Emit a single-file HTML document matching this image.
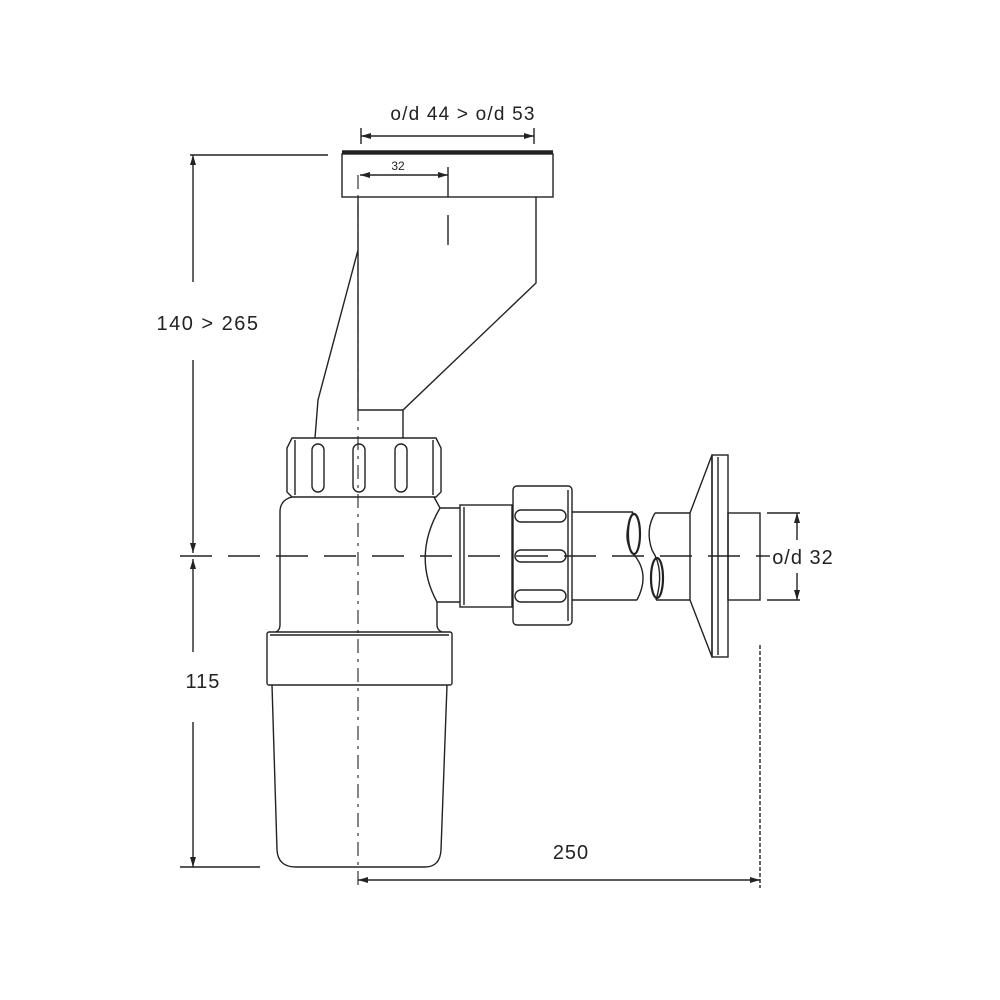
<!DOCTYPE html>
<html><head><style>
html,body{margin:0;padding:0;background:#fff;width:1000px;height:1000px;overflow:hidden}
svg{display:block}
text{font-family:"Liberation Sans",sans-serif;fill:#222}
</style></head><body>
<svg width="1000" height="1000" viewBox="0 0 1000 1000" xmlns="http://www.w3.org/2000/svg">
<defs>
<marker id="a" viewBox="0 0 10 6" refX="10" refY="3" markerWidth="10" markerHeight="6" orient="auto-start-reverse" markerUnits="userSpaceOnUse"><path d="M0,0 L10,3 L0,6z" fill="#222"/></marker>
</defs>
<g stroke="#222" stroke-width="1.4" fill="none">
<line x1="361" y1="136" x2="534" y2="136" marker-start="url(#a)" marker-end="url(#a)"/>
<line x1="361" y1="128" x2="361" y2="144"/><line x1="534" y1="128" x2="534" y2="144"/>
<line x1="190" y1="155" x2="328" y2="155"/>
<line x1="342" y1="152" x2="553" y2="152" stroke-width="3.5"/>
<rect x="342" y="154" width="211" height="43"/>
<line x1="360" y1="175" x2="448" y2="175" marker-start="url(#a)" marker-end="url(#a)"/>
<line x1="448" y1="167" x2="448" y2="197"/>
<line x1="448" y1="215" x2="448" y2="245"/>
<path d="M358 197 V410 H403 L536 283 V197"/>
<path d="M358 250 L318 400 L315 438"/>
<line x1="403" y1="410" x2="403" y2="438"/>
<path d="M292 438 H436 L441 448 V492 L436 497 H292 L287 492 V448 Z"/>
<line x1="295" y1="440" x2="295" y2="495"/><line x1="433" y1="440" x2="433" y2="495"/>
<rect x="312" y="444" width="12" height="48" rx="6"/>
<rect x="353" y="444" width="12" height="48" rx="6"/>
<rect x="395" y="444" width="12" height="48" rx="6"/>
<path d="M292 497 Q280 500 280 512 V625 Q280 630 276 632"/>
<path d="M434 497 L440 508 Q412 556 437 602 V625 Q437 630 442 632"/>
<path d="M440 508 H460"/><path d="M437 602 H460"/>
<rect x="460" y="505" width="52" height="102"/>
<line x1="464" y1="507" x2="464" y2="605"/>
<rect x="513" y="486" width="59" height="139" rx="4"/>
<line x1="568" y1="490" x2="568" y2="621"/>
<rect x="515" y="510" width="51" height="12" rx="6"/>
<rect x="515" y="550" width="51" height="12" rx="6"/>
<rect x="515" y="590" width="51" height="12" rx="6"/>
<path d="M572 512 H633 M572 600 H637"/>
<path d="M633 512 Q620 540 635 556 Q650 575 637 600"/>
<ellipse cx="634" cy="534" rx="6" ry="20" stroke-width="2.2"/>
<ellipse cx="657" cy="578" rx="6" ry="20" stroke-width="2.2"/>
<path d="M655 513 Q645 530 652 550 Q665 570 656 600"/>
<path d="M655 513 H690 M656 600 H690"/>
<path d="M690 513 L712 455 V657 L690 600 Z"/>
<rect x="712" y="455" width="16" height="202"/>
<line x1="718" y1="457" x2="718" y2="655"/>
<rect x="728" y="513" width="32" height="87"/>
<line x1="767" y1="513" x2="800" y2="513"/><line x1="767" y1="600" x2="800" y2="600"/>
<line x1="797" y1="540" x2="797" y2="513" marker-end="url(#a)"/>
<line x1="797" y1="573" x2="797" y2="600" marker-end="url(#a)"/>
<rect x="267" y="632" width="185" height="53" rx="2"/>
<line x1="270" y1="635" x2="449" y2="635"/>
<path d="M272 685 L277 850 Q278 867 296 867 H425 Q440 867 441 850 L447 685"/>
<line x1="180" y1="556" x2="770" y2="556" stroke-dasharray="32,16"/>
<line x1="358" y1="175" x2="358" y2="885" stroke-dasharray="14,6,3,6" stroke-width="1.1"/>
<line x1="193" y1="155" x2="193" y2="282" marker-start="url(#a)"/>
<line x1="193" y1="360" x2="193" y2="553" marker-end="url(#a)"/>
<line x1="193" y1="559" x2="193" y2="652" marker-start="url(#a)"/>
<line x1="193" y1="722" x2="193" y2="867" marker-end="url(#a)"/>
<line x1="180" y1="867" x2="260" y2="867"/>
<line x1="760" y1="645" x2="760" y2="888" stroke-dasharray="4,2"/>
<line x1="358" y1="880" x2="760" y2="880" marker-start="url(#a)" marker-end="url(#a)"/>
</g>
<text x="463" y="120" font-size="19" letter-spacing="1.2" text-anchor="middle">o/d 44 &gt; o/d 53</text>
<text x="398" y="170" font-size="12" text-anchor="middle">32</text>
<text x="208" y="330" font-size="20" letter-spacing="1.5" text-anchor="middle">140 &gt; 265</text>
<text x="203" y="688" font-size="20" letter-spacing="1" text-anchor="middle">115</text>
<text x="571" y="859" font-size="20" letter-spacing="1" text-anchor="middle">250</text>
<text x="803" y="564" font-size="20" letter-spacing="1" text-anchor="middle">o/d 32</text>
</svg>
</body></html>
